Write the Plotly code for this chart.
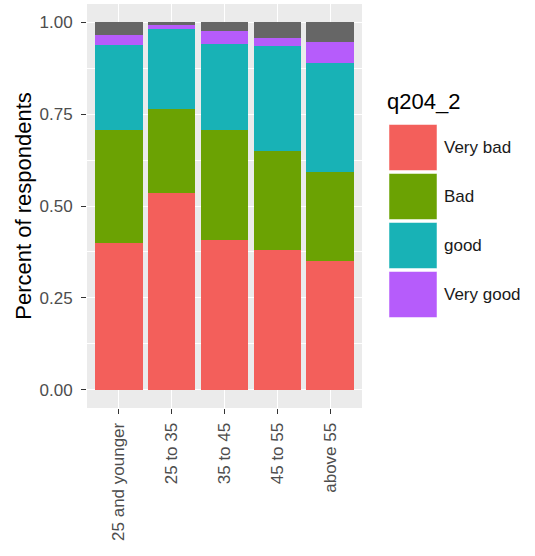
import plotly.graph_objects as go

categories = ["25 and younger", "25 to 35", "35 to 45", "45 to 55", "above 55"]
series_names = ["Very bad", "Bad", "good", "Very good"]
very_bad = [0.400, 0.536, 0.408, 0.379, 0.349]
bad = [0.308, 0.227, 0.300, 0.271, 0.244]
good = [0.230, 0.220, 0.234, 0.287, 0.296]
very_good = [0.027, 0.011, 0.034, 0.021, 0.058]
missing = [0.035, 0.006, 0.024, 0.042, 0.053]
y_ticks = [0.0, 0.25, 0.5, 0.75, 1.0]
y_tick_labels = ["0.00", "0.25", "0.50", "0.75", "1.00"]

colors = ["#F35F5B", "#6BA203", "#18B2B6", "#B65CFB"]
na_color = "#666666"

W, H = 535, 556
L, R, T, B = 87, 173, 4, 148
pw, ph = W - L - R, H - T - B
TEXT = 17
TITLE = 22
FONT = "Liberation Sans, Arial, Helvetica, sans-serif"

fig = go.Figure()
for name, vals, col in zip(series_names, [very_bad, bad, good, very_good], colors):
    fig.add_trace(go.Bar(x=categories, y=vals, name=name, marker=dict(color=col, line=dict(width=0)),
                         showlegend=False))
fig.add_trace(go.Bar(x=categories, y=missing, name="NA", marker=dict(color=na_color, line=dict(width=0)),
                     showlegend=False))

# custom ggplot-style legend
def px_x(px):
    return (px - L) / pw

def px_y(py):
    return (H - B - py) / ph

shapes = []
annotations = []
key_top = 124.5
key_h = 46
key_step = 49
for i, (name, col) in enumerate(zip(series_names, colors)):
    y0 = key_top + i * key_step
    shapes.append(dict(type="rect", xref="paper", yref="paper",
                       x0=px_x(389), x1=px_x(437), y0=px_y(y0 + key_h), y1=px_y(y0),
                       fillcolor=col, line=dict(width=0.5, color="white"), layer="above"))
    annotations.append(dict(xref="paper", yref="paper", x=px_x(442), y=px_y(y0 + key_h / 2),
                            xanchor="left", yanchor="middle", text=name, showarrow=False,
                            font=dict(size=TEXT, color="#1a1a1a")))
annotations.append(dict(xref="paper", yref="paper", x=px_x(385), y=px_y(101),
                        xanchor="left", yanchor="middle", text="q204_2", showarrow=False,
                        font=dict(size=TITLE, color="#000000")))

fig.update_layout(
    width=W, height=H,
    margin=dict(l=L, r=R, t=T, b=B, autoexpand=False),
    barmode="stack", bargap=0.1,
    paper_bgcolor="white", plot_bgcolor="#EBEBEB",
    font=dict(family=FONT),
    shapes=shapes, annotations=annotations,
    showlegend=False,
)
fig.update_xaxes(
    range=[-0.6, 4.6], showgrid=True, gridcolor="white", gridwidth=1.2,
    tickangle=-90, ticks="outside", ticklen=5, tickcolor="#333333", ticklabelstandoff=2,
    tickfont=dict(size=TEXT, color="#4D4D4D"), zeroline=False, showline=False,
    automargin=False,
)
fig.update_yaxes(
    range=[-0.05, 1.05], tickvals=y_ticks, ticktext=y_tick_labels,
    showgrid=True, gridcolor="white", gridwidth=1.2,
    minor=dict(dtick=0.125, tick0=0.125, showgrid=True, gridcolor="white", gridwidth=0.5),
    ticks="outside", ticklen=5, tickcolor="#333333", ticklabelstandoff=5,
    tickfont=dict(size=TEXT, color="#4D4D4D"), zeroline=False, showline=False,
    automargin=False,
    title=dict(text="Percent of respondents", font=dict(size=TITLE, color="#000000"), standoff=1),
)

fig.write_html("out.html", config={"displayModeBar": False},
               post_script="document.body.style.margin='0px';")
